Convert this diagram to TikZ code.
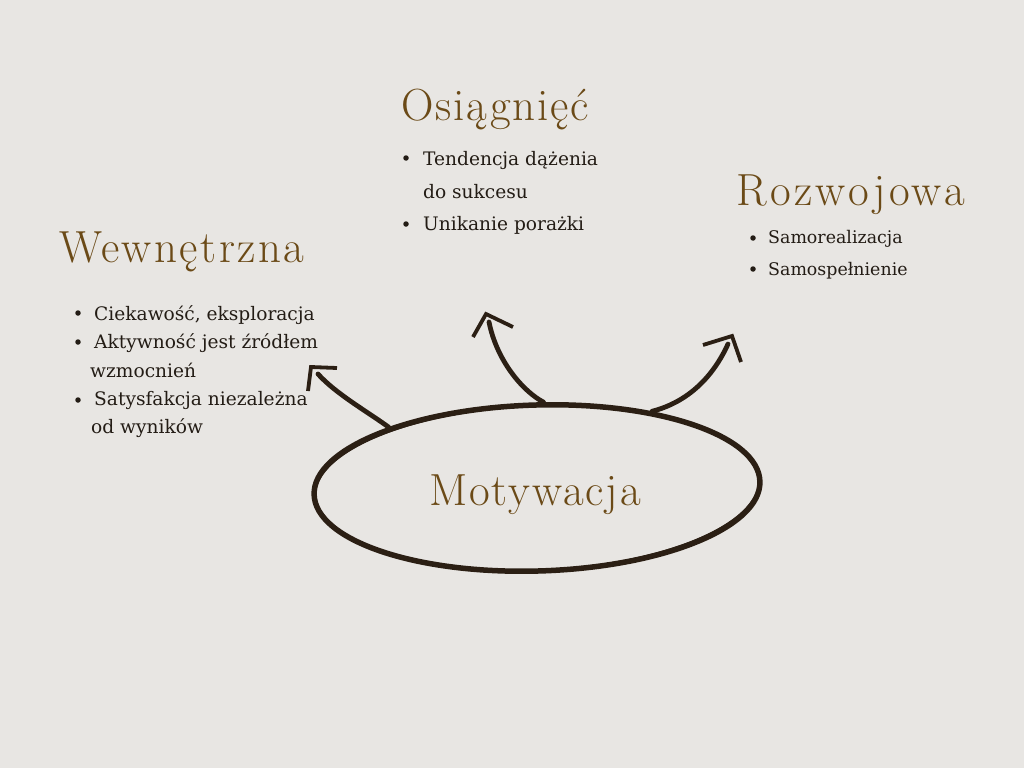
\documentclass[tikz,border=0pt]{standalone}
\usepackage{fontspec}
\usetikzlibrary{shapes.geometric}
\newfontfamily\titleA{lmroman17-regular.otf}[LetterSpace=4]
\newfontfamily\titleB{lmroman17-regular.otf}[LetterSpace=5.5]
\newfontfamily\titleC{lmroman17-regular.otf}[LetterSpace=7.5]
\newfontfamily\titleD{lmroman17-regular.otf}[LetterSpace=4.2]
\newfontfamily\bodyfont{DejaVu Serif}
\definecolor{bg}{HTML}{E8E6E3}
\definecolor{ink}{HTML}{2B1F14}
\definecolor{titlec}{HTML}{6B4A17}
\definecolor{bodyc}{HTML}{231C15}
\tikzset{
  ttl/.style={anchor=base west, inner sep=0pt, text=titlec},
  tsize/.style={font=#1\fontsize{45}{50}\selectfont},
  itm/.style={anchor=base west, inner sep=0pt, text=bodyc, font=\bodyfont\fontsize{18.6}{22}\selectfont},
  itms/.style={anchor=base west, inner sep=0pt, text=bodyc, font=\bodyfont\fontsize{17.4}{21}\selectfont},
  bul/.style={circle, fill=bodyc, inner sep=0pt, minimum size=5.5pt},
  shaft/.style={draw=ink, line width=4.8pt, line cap=round},
  barb/.style={draw=ink, line width=3.8pt, line cap=butt, line join=miter},
}
\begin{document}
\begin{tikzpicture}[x=1pt,y=1pt]
\fill[bg] (0,0) rectangle (1024,-768);
\useasboundingbox (0,0) rectangle (1024,-768);

% titles
\node[ttl, tsize=\titleA] (t1) at (401,-120) {Osiągnięć};
\node[ttl, tsize=\titleB] (t2) at (59,-262) {Wewnętrzna};
\node[ttl, tsize=\titleC] (t3) at (736,-205) {Rozwojowa};

% Osiągnięć list
\node[bul] (b11) at (406,-158) {};
\node[itm] (i11) at (423,-165) {Tendencja dążenia};
\node[itm] (i12) at (423,-198) {do sukcesu};
\node[bul] (b12) at (406,-224) {};
\node[itm] (i13) at (423,-230) {Unikanie porażki};

% Wewnętrzna list
\node[bul] (b21) at (78,-313) {};
\node[itm] (i21) at (94,-320) {Ciekawość, eksploracja};
\node[bul] (b22) at (78,-342) {};
\node[itm] (i22) at (94,-348) {Aktywność jest źródłem};
\node[itm] (i23) at (90,-377) {wzmocnień};
\node[bul] (b23) at (78,-400) {};
\node[itm] (i24) at (94,-405) {Satysfakcja niezależna};
\node[itm] (i25) at (91,-433) {od wyników};

% Rozwojowa list
\node[bul] (b31) at (753,-238) {};
\node[itms] (i31) at (768,-243) {Samorealizacja};
\node[bul] (b32) at (753,-269) {};
\node[itms] (i32) at (768,-275) {Samospełnienie};

% central ellipse
\node[ellipse, draw=ink, line width=5.5pt, minimum width=446pt, minimum height=166pt, rotate=1.7, inner sep=0pt] (ell) at (537,-488) {};
\draw[ink, line width=1pt, rotate around={2.4:(537,-488)}] (537,-488) ellipse [x radius=222, y radius=82];
\node[ttl, tsize=\titleD] (mot) at (429,-505) {Motywacja};

% arrows
\coordinate (h1) at (311,-367);
\coordinate (h2) at (486,-314);
\coordinate (h3) at (732,-336);
\draw[shaft] (ell.156) .. controls (368,-412) and (336,-394) .. (318,-374);
\draw[barb] (308,-391) -- (h1) -- (337,-368);
\draw[shaft] (ell.84) .. controls (524,-392) and (497,-362) .. (489,-322);
\draw[barb] (473,-337) -- (h2) -- (513,-327);
\draw[shaft] (ell.32) .. controls (688,-402) and (713,-377) .. (728,-344);
\draw[barb] (703,-345) -- (h3) -- (741,-362);
\end{tikzpicture}
\end{document}
